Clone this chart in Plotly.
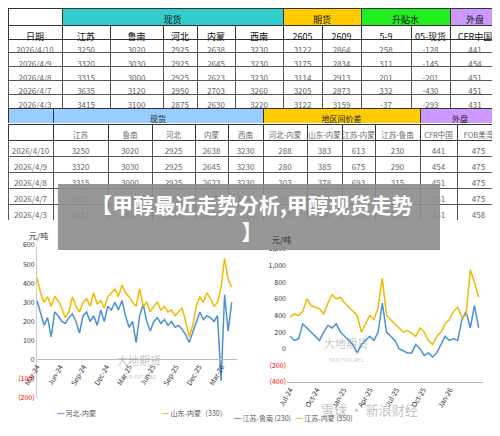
import plotly.graph_objects as go
import pandas as pd

W, H = 500, 436
OFF = 8  # browser body margin
FW, FH = W - OFF, H - OFF
def px(x): return max(0.0, (x - OFF) / FW)
def py(y): return min(1.0, 1 - (y - OFF) / FH)

dates = ["2026/4/10", "2026/4/9", "2026/4/8", "2026/4/7", "2026/4/3"]
js = [3250, 3320, 3315, 3635, 3415]
ln = [3020, 3030, 3000, 3120, 3100]
hb = [2925, 2925, 2925, 2950, 2875]
nm = [2638, 2645, 2623, 2703, 2630]
xn = [3230, 3230, 3230, 3260, 3220]
f2605 = [3122, 3175, 3114, 3205, 3122]
f2609 = [2864, 2834, 2913, 2873, 3159]
s59 = [258, 311, 201, 332, -37]
s05 = [-128, -145, -201, -430, -293]
cfr = [441, 454, 451, 451, 431]
hb_nm = [288, 280, 303, 247, 245]
sd_nm = [383, 385, 378, 418, 470]
js_nm = [613, 675, 693, 932, 785]
js_ln = [230, 290, 315, 515, 315]
fob = [475, 475, 475, 475, 458]

t1_groups = ["", "现货", "期货", "升贴水", "外盘"]
t1_group_w = [54, 221, 78, 89, 50]
t1_group_c = ["white", "#33CCCC", "#FFCC00", "#22EE22", "#CC99FF"]
t1_cols = ["日期", "江苏", "鲁南", "河北", "内蒙", "西南", "2605", "2609", "5-9", "05-现货", "CFR中国"]
t1_w = [54, 48, 53, 34, 38, 48, 39, 39, 50, 39, 50]

t2_groups = ["", "现货", "地区间价差", "外盘"]
t2_group_w = [45, 210, 157, 80]
t2_group_c = ["#99CCFF", "#99CCFF", "#FFCC00", "#CC99FF"]
t2_cols = ["", "江苏", "鲁南", "河北", "内蒙", "西南", "河北-内蒙", "山东-内蒙", "江苏-内蒙", "江苏-鲁南", "CFR中国", "FOB美湾"]
t2_w = [45, 55, 44, 43, 33, 35, 44, 35, 33, 45, 37, 43]

# left chart series (2024-03 .. 2026-04)
left_orange = [430, 350, 300, 330, 280, 330, 310, 270, 220, 250, 330, 280, 250, 300, 320, 280, 350, 290,
               310, 270, 330, 350, 370, 330, 390, 350, 330, 300, 280, 370, 280, 300, 250, 280, 300, 260,
               280, 250, 260, 230, 250, 270, 200, 120, 180, 280, 330, 300, 350, 320, 280, 300, 380, 530, 420, 380]
left_blue = [310, 250, 180, 220, 120, 250, 230, 200, 190, 220, 240, 200, 140, 230, 250, 200, 230, 180,
             260, 200, 280, 260, 300, 260, 310, 230, 170, 200, 90, 230, 290, 200, 150, 200, 220, 190,
             210, 180, 200, 170, 180, 160, 130, 90, 140, 200, 250, 210, 230, 220, 200, 230, -110, 340, 150, 300]
left_dates = pd.date_range("2024-03-01", "2026-04-10", periods=len(left_orange))

right_orange = [380, 420, 400, 450, 600, 520, 500, 480, 420, 550, 650, 600, 620, 550, 500, 450, 400, 200,
                300, 400, 350, 500, 850, 400, 350, 300, 250, 200, 220, 180, 150, 250, 200, 100, 50, 150,
                200, 300, 350, 450, 500, 380, 400, 950, 800, 620]
right_blue = [150, 100, 120, 300, 250, 200, 150, 100, 200, 280, 250, 300, 200, 150, 100, 50, -50, 50,
              100, 150, 100, 200, 550, 200, 150, 100, 0, -30, -50, -50, 50, 0, -80, -50, -100, -50,
              50, 150, 100, 120, 100, 350, 450, 250, 520, 250]
right_dates = pd.date_range("2024-07-01", "2026-04-10", periods=len(right_orange))

fig = go.Figure()
FONT = "Noto Sans CJK SC"

def table(ytop, ybot, header, widths, fills, cells=None, hh=15, ch=15, hfont=None, cfont=None):
    fig.add_trace(go.Table(
        domain=dict(x=[0, 1], y=[py(ybot), py(ytop)]),
        columnwidth=widths,
        header=dict(values=header, fill_color=fills, line_color="#333", height=hh, align="center",
                    font=hfont or dict(family=FONT, size=10, color="#111")),
        cells=dict(values=cells if cells else [[] for _ in header], fill_color="white", line_color="#555",
                   height=ch, align="center", font=cfont or dict(family=FONT, size=8, color="#666")),
    ))

table(8, 26, t1_groups, t1_group_w, t1_group_c, hh=17, hfont=dict(family=FONT, size=9, color="#111"))
table(25, 108, t1_cols, t1_w, "white",
      [dates, js, ln, hb, nm, xn, f2605, f2609, s59, s05, cfr], hh=14, ch=13.8,
      hfont=dict(family=FONT, size=9, color="#111"))
table(108, 124, t2_groups, t2_group_w, t2_group_c, hh=16,
      hfont=dict(family=FONT, size=8, color="#222"))
table(124, 220, t2_cols, t2_w, "white",
      [dates, js, ln, hb, nm, xn, hb_nm, sd_nm, js_nm, js_ln, cfr, fob], hh=16, ch=16,
      hfont=dict(family=FONT, size=7.5, color="#666"))

BLUE = "#4A90D9"
ORANGE = "#F5B800"
fig.add_trace(go.Scatter(x=left_dates, y=left_blue, mode="lines", line=dict(color=BLUE, width=1.5),
                         xaxis="x", yaxis="y", showlegend=False))
fig.add_trace(go.Scatter(x=left_dates, y=left_orange, mode="lines", line=dict(color=ORANGE, width=1.5),
                         xaxis="x", yaxis="y", showlegend=False))
fig.add_trace(go.Scatter(x=right_dates, y=right_blue, mode="lines", line=dict(color=BLUE, width=1.5),
                         xaxis="x2", yaxis="y2", showlegend=False))
fig.add_trace(go.Scatter(x=right_dates, y=right_orange, mode="lines", line=dict(color=ORANGE, width=1.5),
                         xaxis="x2", yaxis="y2", showlegend=False))

def neg(v):
    return f"<span style='color:red'>({-v})</span>" if v < 0 else f"{v:,}"

lv = [600, 500, 400, 300, 200, 100, 0, -100, -200]
rv = [1200, 1000, 800, 600, 400, 200, 0, -200, -400]
tf = dict(family=FONT, size=7, color="#333")
fig.update_layout(
    width=FW, height=FH, margin=dict(l=0, r=0, t=0, b=0, autoexpand=False), paper_bgcolor="white", plot_bgcolor="white",
    xaxis=dict(domain=[px(37), px(237)], anchor="free", position=py(359), showgrid=False, automargin=False,
               range=[pd.Timestamp("2024-03-01"), pd.Timestamp("2026-05-01")],
               tickvals=pd.date_range("2024-03-01", "2026-03-01", freq="3MS"), tickformat="%b-%y",
               tickangle=-60, tickfont=tf, showline=True, linecolor="#bbb"),
    yaxis=dict(domain=[py(398), py(245)], range=[-200, 600], tickvals=lv, ticktext=[neg(v) for v in lv],
               automargin=False, showgrid=False, zeroline=False, tickfont=tf, showline=True, linecolor="#ccc"),
    xaxis2=dict(domain=[px(287), px(483)], anchor="y2", showgrid=False, automargin=False,
                range=[pd.Timestamp("2024-06-20"), pd.Timestamp("2026-04-25")],
                tickvals=pd.date_range("2024-07-01", "2026-01-01", freq="3MS"), tickformat="%b-%y",
                tickangle=-60, tickfont=tf, showline=True, linecolor="#bbb"),
    yaxis2=dict(domain=[py(382), py(249)], anchor="x2", range=[-400, 1200], tickvals=rv, automargin=False,
                ticktext=[neg(v) for v in rv], showgrid=False, zeroline=False, tickfont=tf),
)

ann = []
ann.append(dict(x=px(27), y=py(235), text="元/吨", font=dict(family=FONT, size=8, color="#333")))
ann.append(dict(x=px(281), y=py(240), text="元/吨", font=dict(family=FONT, size=8, color="#333")))
for x, y in [(115, 382), (370, 365)]:
    ann.append(dict(x=px(x), y=py(y), text="大地期货<br><span style='font-size:5px'>DADI FUTURES</span>",
                    font=dict(family=FONT, size=11, color="rgba(120,120,120,0.45)")))
ann.append(dict(x=px(55), y=py(420), text="<span style='color:#4A90D9'>━</span> 河北-内蒙",
                font=dict(family=FONT, size=7, color="#555")))
ann.append(dict(x=px(160), y=py(420), text="<span style='color:#F5B800'>━</span> 山东-内蒙（330）",
                font=dict(family=FONT, size=7, color="#555")))
ann.append(dict(x=px(355), y=py(425), text="<span style='color:#4A90D9'>━</span> 江苏-鲁南 (230)   <span style='color:#F5B800'>━</span> 江苏-内蒙 (550)",
                font=dict(family=FONT, size=7, color="#555")))
ann.append(dict(x=px(420), y=py(421), text="雪球 · 新浪财经", font=dict(family=FONT, size=13, color="rgba(150,150,150,0.6)")))
ann.append(dict(x=px(252), y=py(217), text="<b>【甲醇最近走势分析,甲醇现货走势<br>】</b>",
                font=dict(family=FONT, size=21, color="white"), align="center"))
for a in ann:
    a.update(xref="paper", yref="paper", showarrow=False)
fig.update_layout(annotations=ann)
fig.add_shape(type="rect", xref="paper", yref="paper", x0=px(58), x1=px(440), y0=py(250), y1=py(184),
              fillcolor="rgba(140,140,140,0.9)", line_width=0, layer="above")

fig.write_html("out.html")
